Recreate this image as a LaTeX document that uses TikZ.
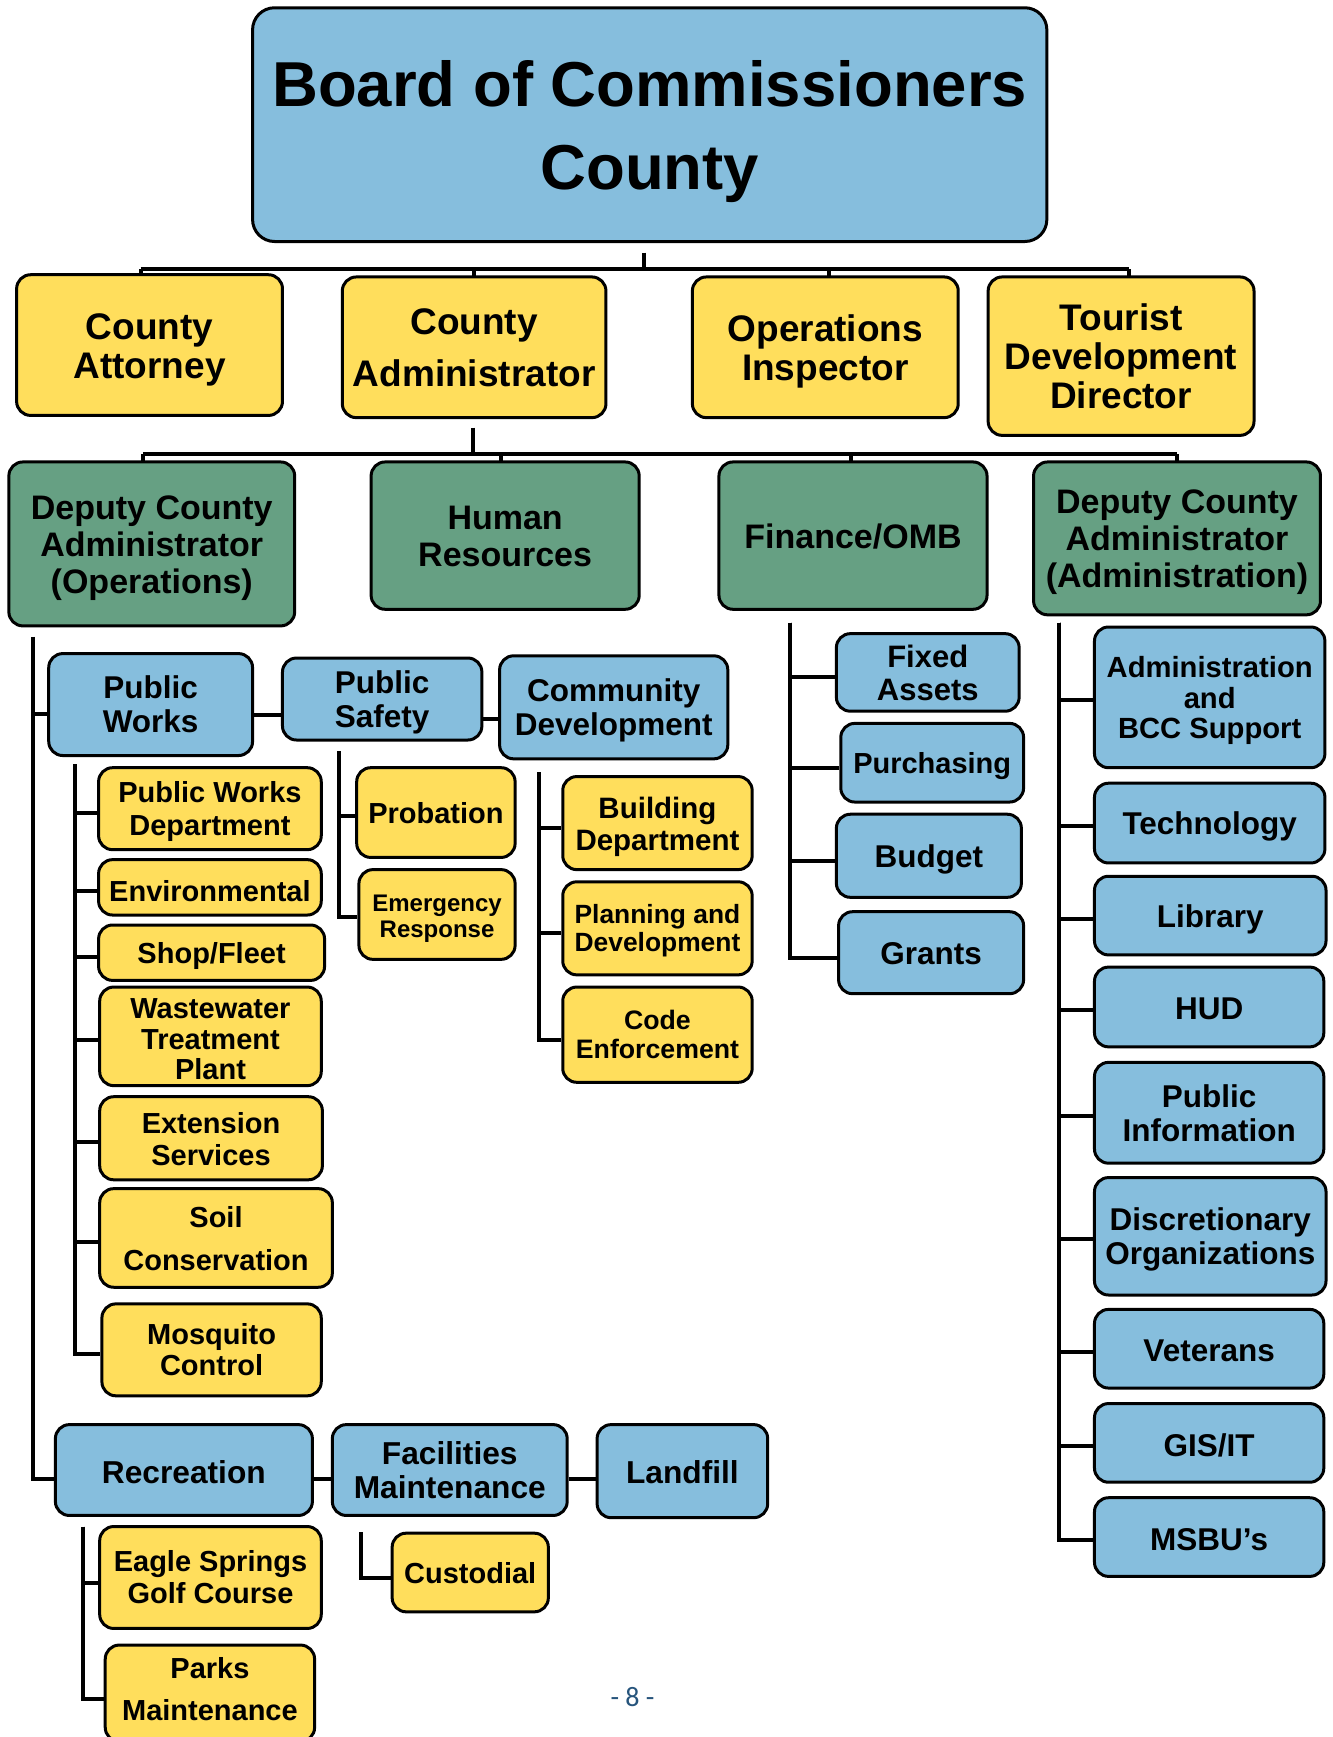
\documentclass[tikz,border=0pt]{standalone}
\usepackage{fontspec}
\setmainfont{Liberation Sans}
\newfontfamily\pagefont{Carlito}
\usetikzlibrary{calc}
\definecolor{cblue}{RGB}{134,190,221}
\definecolor{cyellow}{RGB}{255,222,92}
\definecolor{cgreen}{RGB}{102,160,131}
\definecolor{cpage}{RGB}{38,84,124}
\newcommand\fsz[2]{\fontsize{#1}{#2}\selectfont\bfseries}
% \orgbox[text shift]{style}{font}{x1}{y1}{x2}{y2}{name}{text}
\newcommand\orgbox[9][-2.5]{%
  \node[#2, minimum width={(#6-#4)*1.108pt}, minimum height={(#7-#5)*1.108pt}] (#8) at ({(#4+#6)/2},{(#5+#7)/2}) {};
  \node[font=#3, align=center, inner sep=0pt, text=black, yshift=#1pt] (#8t) at (#8.center) {#9};}
\tikzset{
  obox/.style={draw=black, line width=3pt, rounded corners=14pt, inner sep=0pt},
  bluebox/.style={obox, fill=cblue},
  yelbox/.style={obox, fill=cyellow},
  grnbox/.style={obox, fill=cgreen},
  conn/.style={draw=black, line width=4pt, line join=miter}
}
\begin{document}
\begin{tikzpicture}[x=1.108pt, y=-1.108pt]
\useasboundingbox (0,0) rectangle (1203,1568);
\clip (0,0) rectangle (1203,1568);
\fill[white] (0,0) rectangle (1203,1568);

\coordinate (j0) at (581,228);
\coordinate (j1) at (581,243);
\coordinate (k0) at (427,386);
\coordinate (k1) at (427,410);
\coordinate (opsbus) at (30,575);
\coordinate (pwbus) at (68,690);
\coordinate (psbus) at (306,678);
\coordinate (cdbus) at (487,697);
\coordinate (finbus) at (713,562);
\coordinate (dabus) at (956,562);
\coordinate (recbus) at (75,1378);
\coordinate (facbus) at (326,1383);

% boxes
\orgbox[-6.5]{bluebox, rounded corners=22pt}{\fsz{63.5}{83}}{228}{7}{945}{218}{board}{Board of Commissioners\\County}

\orgbox[-4.4]{yelbox}{\fsz{37}{39}}{15}{248}{255}{375}{ca}{County\\Attorney}
\orgbox[0]{yelbox}{\fsz{37}{52}}{309}{250}{547}{377}{cadm}{County\\Administrator}
\orgbox[-3.8]{yelbox}{\fsz{37}{39}}{625}{250}{865}{377}{oi}{Operations\\Inspector}
\orgbox[0]{yelbox}{\fsz{37}{39}}{892}{250}{1132}{393}{tdd}{Tourist\\Development\\Director}

\orgbox[-3.8]{grnbox}{\fsz{34}{37}}{8}{417}{266}{565}{dops}{Deputy County\\Administrator\\(Operations)}
\orgbox[-1]{grnbox}{\fsz{34}{37}}{335}{417}{577}{550}{hr}{Human\\Resources}
\orgbox[-1]{grnbox}{\fsz{34}{37}}{649}{417}{891}{550}{fin}{Finance/OMB}
\orgbox[-3.3]{grnbox}{\fsz{34}{37}}{933}{417}{1192}{555}{dadm}{Deputy County\\Administrator\\(Administration)}

\orgbox[0]{bluebox}{\fsz{31.5}{34}}{44}{590}{228}{682}{pw}{Public\\Works}
\orgbox[-3.3]{bluebox}{\fsz{31.5}{34}}{255}{594}{435}{668}{ps}{Public\\Safety}
\orgbox[-3.3]{bluebox}{\fsz{31.5}{34}}{451}{592}{657}{685}{cd}{Community\\Development}

\orgbox[-3.3]{yelbox}{\fsz{29}{33}}{89}{693}{290}{767}{pwd}{Public Works\\Department}
\orgbox[-3.3]{yelbox}{\fsz{29}{32}}{89}{776}{290}{826}{env}{Environmental}
\orgbox[-3.3]{yelbox}{\fsz{29}{32}}{89}{835}{293}{885}{shop}{Shop/Fleet}
\orgbox[-3.3]{yelbox}{\fsz{29}{30.5}}{90}{891}{290}{980}{wwtp}{Wastewater\\Treatment\\Plant}
\orgbox[-1]{yelbox}{\fsz{29}{32}}{90}{990}{291}{1065}{ext}{Extension\\Services}
\orgbox[-1]{yelbox}{\fsz{29}{43}}{90}{1073}{300}{1162}{soil}{Soil\\Conservation}
\orgbox[0]{yelbox}{\fsz{29}{31}}{92}{1177}{290}{1260}{mosq}{Mosquito\\Control}

\orgbox[-1]{yelbox}{\fsz{29}{32}}{322}{693}{465}{774}{prob}{Probation}
\orgbox[-4.4]{yelbox}{\fsz{24}{26.6}}{324}{785}{465}{866}{emer}{Emergency\\Response}

\orgbox[-3.3]{yelbox}{\fsz{29.5}{32}}{508}{701}{679}{785}{bld}{Building\\Department}
\orgbox[-2.2]{yelbox}{\fsz{26.4}{28}}{508}{796}{679}{880}{plan}{Planning and\\Development}
\orgbox[0]{yelbox}{\fsz{26.7}{29}}{508}{891}{679}{977}{code}{Code\\Enforcement}

\orgbox[0]{bluebox}{\fsz{31}{33}}{755}{572}{920}{642}{fa}{Fixed\\Assets}
\orgbox[-3.3]{bluebox}{\fsz{29}{32}}{759}{653}{924}{724}{pur}{Purchasing}
\orgbox[-3.3]{bluebox}{\fsz{31.5}{34}}{755}{735}{922}{810}{bud}{Budget}
\orgbox[-1]{bluebox}{\fsz{31.5}{34}}{757}{823}{924}{897}{gra}{Grants}

\orgbox[-3.3]{bluebox}{\fsz{29.2}{30.5}}{988}{566}{1196}{693}{abcc}{Administration\\and\\BCC Support}
\orgbox[-3.3]{bluebox}{\fsz{31.5}{34}}{988}{707}{1196}{779}{tech}{Technology}
\orgbox[-3.3]{bluebox}{\fsz{31.5}{34}}{988}{791}{1197}{862}{lib}{Library}
\orgbox[-2.2]{bluebox}{\fsz{31.5}{34}}{988}{873}{1195}{945}{hud}{HUD}
\orgbox[0]{bluebox}{\fsz{31.5}{34}}{988}{959}{1195}{1050}{pi}{Public\\Information}
\orgbox[-3.3]{bluebox}{\fsz{31.5}{34}}{988}{1063}{1197}{1169}{disc}{Discretionary\\Organizations}
\orgbox[-2.2]{bluebox}{\fsz{31.5}{34}}{988}{1182}{1195}{1253}{vet}{Veterans}
\orgbox[-2.2]{bluebox}{\fsz{31.5}{34}}{988}{1267}{1195}{1338}{gis}{GIS/IT}
\orgbox[-2.2]{bluebox}{\fsz{31.5}{34}}{988}{1352}{1195}{1423}{msbu}{MSBU’s}

\orgbox[-2.2]{bluebox}{\fsz{31.7}{34}}{50}{1286}{282}{1368}{rec}{Recreation}
\orgbox[0]{bluebox}{\fsz{31.7}{34}}{300}{1286}{512}{1368}{fac}{Facilities\\Maintenance}
\orgbox[-1]{bluebox}{\fsz{31.7}{34}}{539}{1286}{693}{1370}{land}{Landfill}

\orgbox[0]{yelbox}{\fsz{29}{32}}{90}{1378}{290}{1470}{eagle}{Eagle Springs\\Golf Course}
\orgbox[4.4]{yelbox}{\fsz{29}{42}}{95}{1485}{284}{1572}{parks}{Parks\\Maintenance}
\orgbox[-1]{yelbox}{\fsz{29}{32}}{354}{1384}{495}{1455}{cust}{Custodial}

\node[font=\pagefont\fontsize{28}{30}\selectfont, text=cpage] (pg) at (571,1532) {- 8 -};

% tick points
\coordinate (caT) at ([xshift=-9pt]ca.north);
\coordinate (cadmT) at (cadm.north);
\coordinate (oiT) at ([xshift=4pt]oi.north);
\coordinate (tddT) at ([xshift=8pt]tdd.north);
\coordinate (dopsT) at ([xshift=-9pt]dops.north);
\coordinate (hrT) at ([xshift=-4pt]hr.north);
\coordinate (finT) at ([xshift=-2pt]fin.north);
\coordinate (dadmT) at (dadm.north);

% connectors
\draw[conn] (j0) -- (j1);
\draw[conn] (caT |- j1) -- (tddT |- j1);
\foreach \n in {ca,cadm,oi,tdd} \draw[conn] (\n T |- j1) -- ([yshift=-3pt]\n T);
\draw[conn] (k0) -- (k1);
\draw[conn] (dopsT |- k1) -- (dadmT |- k1);
\foreach \n in {dops,hr,fin,dadm} \draw[conn] (\n T |- k1) -- ([yshift=-3pt]\n T);

\draw[conn] (opsbus) |- ([yshift=-9pt]pw.west);
\draw[conn] (opsbus) |- ([yshift=-9pt]rec.west);
\draw[conn] ([yshift=-10pt]pw.east) -- ([yshift=-10pt]pw.east -| ps.west);
\draw[conn] ([yshift=-20pt]ps.east) -- ([yshift=-20pt]ps.east -| cd.west);
\draw[conn] ([yshift=-9pt]rec.east) -- ([yshift=-9pt]rec.east -| fac.west);
\draw[conn] ([yshift=-9pt]fac.east) -- ([yshift=-9pt]fac.east -| land.west);

\foreach \n in {pwd,env,shop,wwtp,ext,soil,mosq} \draw[conn] (pwbus) |- ([yshift=-4pt]\n.west);
\foreach \n in {prob,emer} \draw[conn] (psbus) |- ([yshift=-3pt]\n.west);
\foreach \n in {bld,plan,code} \draw[conn] (cdbus) |- ([yshift=-5pt]\n.west);
\foreach \n in {fa,pur,bud,gra} \draw[conn] (finbus) |- ([yshift=-5pt]\n.west);
\foreach \n in {abcc,tech,lib,hud,pi,disc,vet,gis,msbu} \draw[conn] (dabus) |- ([yshift=-3pt]\n.west);
\foreach \n in {eagle,parks} \draw[conn] (recbus) |- ([yshift=-6pt]\n.west);
\draw[conn] (facbus) |- ([yshift=-5pt]cust.west);
\end{tikzpicture}
\end{document}
